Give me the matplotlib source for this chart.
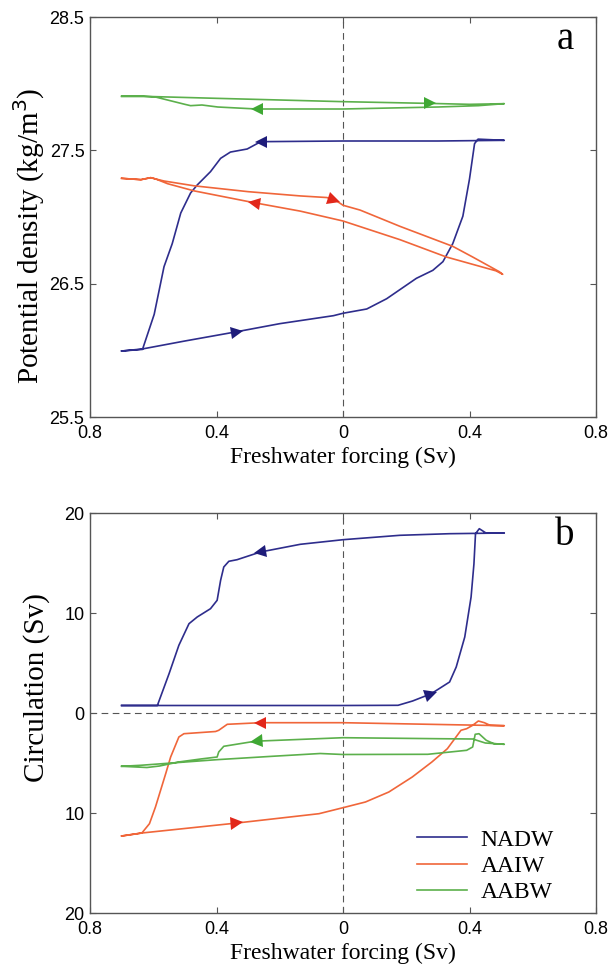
import numpy as np
import matplotlib
matplotlib.use("Agg")
import matplotlib.pyplot as plt
from matplotlib.markers import MarkerStyle
from matplotlib.transforms import Affine2D

# ---- panel a: potential density (kg/m3) ----
nadw_rho_fwd_x = [-0.70, -0.635, -0.50, -0.335, -0.20, -0.03, 0.0, 0.075, 0.138, 0.232, 0.284,
                  0.316, 0.347, 0.379, 0.40, 0.416, 0.427, 0.51]
nadw_rho_fwd_y = [25.995, 26.01, 26.07, 26.14, 26.20, 26.26, 26.278, 26.31, 26.387, 26.54, 26.60,
                  26.665, 26.80, 27.006, 27.285, 27.55, 27.584, 27.575]
nadw_rho_back_x = [0.51, 0.30, 0.0, -0.26, -0.303, -0.356, -0.387, -0.419, -0.461, -0.482,
                   -0.513, -0.54, -0.566, -0.597, -0.634, -0.70]
nadw_rho_back_y = [27.575, 27.57, 27.57, 27.565, 27.51, 27.487, 27.44, 27.34, 27.24, 27.18,
                   27.03, 26.80, 26.627, 26.27, 26.007, 25.995]

aaiw_rho_fwd_x = [-0.70, -0.639, -0.608, -0.592, -0.566, -0.471, -0.30, -0.135, -0.051, -0.02,
                  0.0, 0.054, 0.18, 0.347, 0.41, 0.494, 0.505]
aaiw_rho_fwd_y = [27.29, 27.28, 27.295, 27.285, 27.27, 27.234, 27.19, 27.158, 27.146, 27.12,
                  27.088, 27.052, 26.93, 26.78, 26.70, 26.59, 26.57]
aaiw_rho_back_x = [0.505, 0.484, 0.327, 0.18, 0.0, -0.135, -0.283, -0.471, -0.555, -0.592,
                   -0.608, -0.639, -0.70]
aaiw_rho_back_y = [26.57, 26.596, 26.70, 26.83, 26.97, 27.044, 27.108, 27.196, 27.25, 27.285,
                   27.295, 27.28, 27.29]

aabw_rho_fwd_x = [-0.70, -0.63, -0.40, 0.0, 0.274, 0.40, 0.51]
aabw_rho_fwd_y = [27.905, 27.905, 27.89, 27.865, 27.852, 27.845, 27.85]
aabw_rho_back_x = [0.51, 0.428, 0.30, 0.0, -0.273, -0.396, -0.446, -0.482, -0.50, -0.593, -0.63, -0.70]
aabw_rho_back_y = [27.85, 27.835, 27.825, 27.81, 27.81, 27.825, 27.84, 27.835, 27.845, 27.90,
                   27.905, 27.905]

# ---- panel b: circulation (Sv) ----
nadw_psi_fwd_x = [-0.70, -0.40, 0.0, 0.174, 0.22, 0.279, 0.337, 0.358, 0.385, 0.405, 0.414,
                  0.419, 0.431, 0.452, 0.51]
nadw_psi_fwd_y = [0.75, 0.75, 0.75, 0.77, 1.2, 1.93, 3.1, 4.6, 7.6, 11.6, 14.9, 17.93, 18.43,
                  18.0, 18.0]
nadw_psi_back_x = [0.51, 0.337, 0.18, 0.0, -0.135, -0.261, -0.335, -0.361, -0.377, -0.387,
                   -0.398, -0.419, -0.461, -0.487, -0.519, -0.55, -0.587, -0.70]
nadw_psi_back_y = [18.0, 17.93, 17.77, 17.33, 16.87, 16.1, 15.33, 15.17, 14.6, 13.27, 11.27,
                   10.43, 9.6, 8.93, 6.77, 3.93, 0.75, 0.75]

aaiw_psi_fwd_x = [-0.70, -0.636, -0.335, -0.076, 0.0, 0.071, 0.145, 0.219, 0.281, 0.33, 0.373,
                  0.391, 0.41, 0.428, 0.447, 0.465, 0.51]
aaiw_psi_fwd_y = [-12.3, -12.0, -11.0, -10.07, -9.47, -8.9, -7.9, -6.4, -4.9, -3.57, -1.73,
                  -1.57, -1.23, -0.8, -0.97, -1.23, -1.27]
aaiw_psi_back_x = [0.51, 0.0, -0.261, -0.366, -0.393, -0.403, -0.503, -0.519, -0.545, -0.56,
                   -0.593, -0.612, -0.636, -0.70]
aaiw_psi_back_y = [-1.27, -0.97, -0.97, -1.13, -1.73, -1.85, -2.07, -2.4, -4.4, -6.0, -9.4,
                   -11.07, -12.0, -12.3]

aabw_psi_fwd_x = [-0.70, -0.64, -0.40, -0.224, -0.072, 0.0, 0.268, 0.391, 0.41, 0.418, 0.43,
                  0.453, 0.477, 0.51]
aabw_psi_fwd_y = [-5.33, -5.23, -4.67, -4.33, -4.05, -4.15, -4.13, -3.73, -3.4, -2.13, -2.07,
                  -2.73, -3.07, -3.13]
aabw_psi_back_x = [0.51, 0.45, 0.41, 0.30, 0.0, -0.261, -0.293, -0.377, -0.393, -0.398, -0.45,
                   -0.52, -0.58, -0.62, -0.70]
aabw_psi_back_y = [-3.13, -3.0, -2.6, -2.57, -2.47, -2.8, -2.9, -3.33, -3.9, -4.4, -4.6, -4.9,
                   -5.3, -5.45, -5.33]

x_ticks = [-0.8, -0.4, 0.0, 0.4, 0.8]
x_ticklabels = ["0.8", "0.4", "0", "0.4", "0.8"]
rho_ticks = [25.5, 26.5, 27.5, 28.5]
rho_ticklabels = ["25.5", "26.5", "27.5", "28.5"]
psi_ticks = [-20, -10, 0, 10, 20]
psi_ticklabels = ["20", "10", "0", "10", "20"]

names = ["NADW", "AAIW", "AABW"]
line_colors = ["#2e2d8c", "#f0663a", "#5cb04c"]
arrow_colors = ["#1e1c7a", "#e2271a", "#3fa834"]

W, H = 609, 968
fig = plt.figure(figsize=(W / 100, H / 100), dpi=100)
sans = ["Liberation Sans", "DejaVu Sans"]
serif = ["Liberation Serif", "DejaVu Serif"]
frame = "#555555"


def px_axes(left, top, right, bottom):
    return fig.add_axes([left / W, 1 - bottom / H, (right - left) / W, (bottom - top) / H])


def style(ax, yticks, yticklabels, ylim):
    ax.set_xlim(-0.8, 0.8)
    ax.set_ylim(*ylim)
    ax.set_xticks(x_ticks)
    ax.set_xticklabels(x_ticklabels, family=sans, fontsize=13)
    ax.set_yticks(yticks)
    ax.set_yticklabels(yticklabels, family=sans, fontsize=13)
    ax.tick_params(direction="in", length=4, width=0.8, color=frame, top=True, right=True)
    ax.tick_params(axis="x", pad=6)
    ax.tick_params(axis="y", pad=4)
    for s in ax.spines.values():
        s.set_color(frame)
        s.set_linewidth(1.0)
    ax.axvline(0, color=frame, lw=0.8, ls=(0, (6, 4)), zorder=1)


def add_arrow(ax, xs, ys, x0, color):
    xs = np.asarray(xs)
    ys = np.asarray(ys)
    pts = ax.transData.transform(np.column_stack([xs, ys]))
    for i in range(len(xs) - 1):
        if min(xs[i], xs[i + 1]) <= x0 <= max(xs[i], xs[i + 1]) and xs[i] != xs[i + 1]:
            t = (x0 - xs[i]) / (xs[i + 1] - xs[i])
            break
    y0 = ys[i] + t * (ys[i + 1] - ys[i])
    d = pts[i + 1] - pts[i]
    ang = np.degrees(np.arctan2(d[1], d[0]))
    m = MarkerStyle(">", transform=Affine2D().rotate_deg(ang))
    ax.plot([x0], [y0], marker=m, color=color, ms=9, mew=0, ls="none", zorder=5)


def draw(ax, branches, arrows):
    for k, (fx, fy, bx, by) in enumerate(branches):
        ax.plot(list(fx) + list(bx), list(fy) + list(by), color=line_colors[k], lw=1.2,
                label=names[k], zorder=3)
    for k, (fx, fy, bx, by) in enumerate(branches):
        a_f, a_b = arrows[k]
        if a_f is not None:
            add_arrow(ax, fx, fy, a_f, arrow_colors[k])
        if a_b is not None:
            add_arrow(ax, bx, by, a_b, arrow_colors[k])


# panel a
ax1 = px_axes(90, 17, 596, 417)
style(ax1, rho_ticks, rho_ticklabels, (25.5, 28.5))
draw(ax1,
     [(nadw_rho_fwd_x, nadw_rho_fwd_y, nadw_rho_back_x, nadw_rho_back_y),
      (aaiw_rho_fwd_x, aaiw_rho_fwd_y, aaiw_rho_back_x, aaiw_rho_back_y),
      (aabw_rho_fwd_x, aabw_rho_fwd_y, aabw_rho_back_x, aabw_rho_back_y)],
     [(-0.335, -0.26), (-0.03, -0.283), (0.274, -0.273)])

# panel b
ax2 = px_axes(90, 513, 596, 913)
style(ax2, psi_ticks, psi_ticklabels, (-20, 20))
ax2.axhline(0, color=frame, lw=0.8, ls=(0, (6, 4)), zorder=1)
draw(ax2,
     [(nadw_psi_fwd_x, nadw_psi_fwd_y, nadw_psi_back_x, nadw_psi_back_y),
      (aaiw_psi_fwd_x, aaiw_psi_fwd_y, aaiw_psi_back_x, aaiw_psi_back_y),
      (aabw_psi_fwd_x, aabw_psi_fwd_y, aabw_psi_back_x, aabw_psi_back_y)],
     [(0.279, -0.261), (-0.335, -0.261), (None, -0.275)])

leg = ax2.legend(loc="upper left", bbox_to_anchor=((417 - 90) / 506, (913 - 829) / 400),
                 frameon=False, prop={"family": serif, "size": 17}, handlelength=2.1,
                 handletextpad=0.6, labelspacing=0.2, borderpad=0, borderaxespad=0)

# labels
fig.text(343 / W, 1 - 457 / H, "Freshwater forcing (Sv)", family=serif, fontsize=17,
         ha="center", va="center")
fig.text(343 / W, 1 - 953 / H, "Freshwater forcing (Sv)", family=serif, fontsize=17,
         ha="center", va="center")
fig.text(29 / W, 1 - 236 / H, "Potential density (kg/m$^3$)", family=serif, fontsize=21,
         ha="center", va="center", rotation=90)
fig.text(37 / W, 1 - 688 / H, "Circulation (Sv)", family=serif, fontsize=21,
         ha="center", va="center", rotation=90)
fig.text(565 / W, 1 - 49 / H, "a", family=serif, fontsize=28, ha="center", va="baseline")
fig.text(565 / W, 1 - 545 / H, "b", family=serif, fontsize=28, ha="center", va="baseline")

fig.savefig("out.png", dpi=100)
